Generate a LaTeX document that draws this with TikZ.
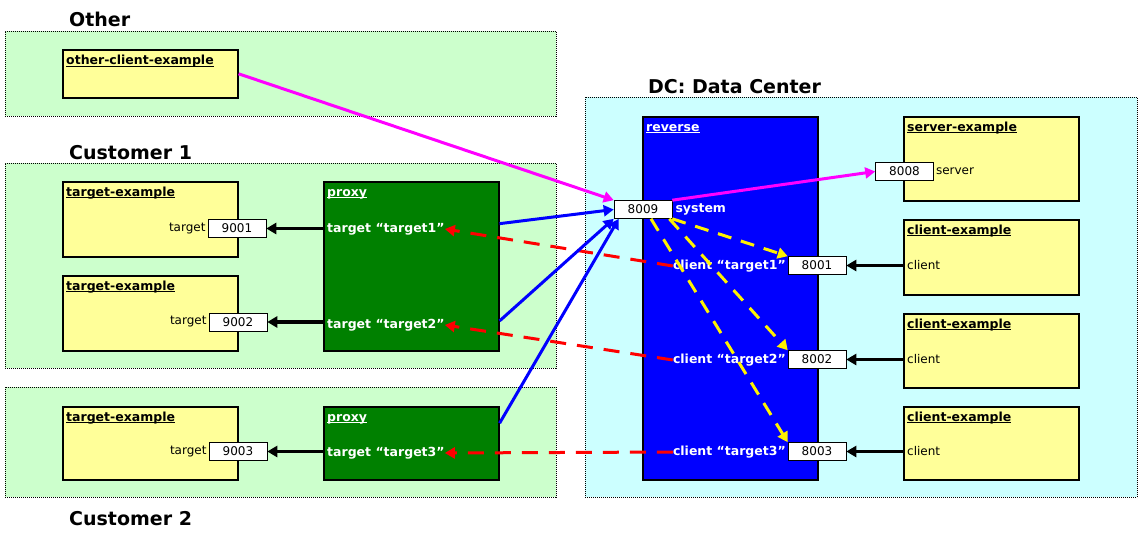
\documentclass[tikz,border=0pt]{standalone}
\usepackage{fontspec}
\setmainfont{DejaVu Sans}
\usetikzlibrary{arrows.meta, calc, positioning}
\definecolor{grpgreen}{HTML}{CCFFCC}
\definecolor{dccyan}{HTML}{CCFFFF}
\definecolor{hostyellow}{HTML}{FFFF99}
\definecolor{proxygreen}{HTML}{008000}
\definecolor{revblue}{HTML}{0000FF}
\definecolor{pink}{HTML}{FF00FF}
\newcommand{\boxname}[1]{\underline{\smash{#1}}}
\tikzset{
  grp/.style={draw, dash pattern=on 1pt off 1pt, line width=0.7pt, anchor=north west},
  hostbox/.style={draw, line width=1.6pt, anchor=north west},
  portbox/.style={draw, fill=white, line width=0.6pt, minimum width=58pt, minimum height=18pt},
  tip/.style={-{Triangle[length=10pt, width=11pt]}}
}

\begin{document}
\begin{tikzpicture}[
    x=1pt, y=-1pt,
    every node/.style={inner sep=0pt, font=\fontsize{12}{14}\selectfont},
    boxtitle/.style={anchor=base west, font=\fontsize{12.5}{14}\selectfont\bfseries},
    grptitle/.style={anchor=base west, font=\fontsize{19}{22}\selectfont\bfseries},
    wlabel/.style={text=white, font=\fontsize{12.5}{14}\selectfont\bfseries},
    blackedge/.style={tip, line width=3.5pt},
    pinkedge/.style={tip, line width=3pt, color=pink},
    blueedge/.style={tip, line width=3pt, color=blue},
    reddash/.style={tip, line width=3pt, color=red, dash pattern=on 16pt off 11pt},
    yellowdash/.style={tip, line width=3pt, color=yellow, dash pattern=on 14pt off 10pt},
]
\useasboundingbox (0,0) rectangle (1145,535);

% Other
\node[grp, fill=grpgreen, minimum width=551pt, minimum height=85pt] (gOther) at (5,31) {};
\node[grptitle] at (69,27) {Other};
\node[hostbox, fill=hostyellow, minimum width=175pt, minimum height=48pt] (other) at (62,49) {};
\node[boxtitle] at (66,65) {\boxname{other-client-example}};

% Customer 1
\node[grp, fill=grpgreen, minimum width=551pt, minimum height=205pt] (gCust1) at (5,163) {};
\node[grptitle] at (69,159) {Customer 1};
\node[hostbox, fill=hostyellow, minimum width=175pt, minimum height=75pt] (tgtA) at (62,181) {};
\node[boxtitle] at (66,196) {\boxname{target-example}};
\node[hostbox, fill=hostyellow, minimum width=175pt, minimum height=75pt] (tgtB) at (62,275) {};
\node[boxtitle] at (66,290) {\boxname{target-example}};
\node[hostbox, fill=proxygreen, minimum width=175pt, minimum height=169pt] (proxyA) at (323,181) {};
\node[boxtitle, text=white] at (327,196) {\boxname{proxy}};

% Customer 2
\node[grp, fill=grpgreen, minimum width=551pt, minimum height=110pt] (gCust2) at (5,387) {};
\node[grptitle] at (69,525) {Customer 2};
\node[hostbox, fill=hostyellow, minimum width=175pt, minimum height=73pt] (tgtC) at (62,406) {};
\node[boxtitle] at (66,421) {\boxname{target-example}};
\node[hostbox, fill=proxygreen, minimum width=175pt, minimum height=73pt] (proxyB) at (323,406) {};
\node[boxtitle, text=white] at (327,421) {\boxname{proxy}};

% DC
\node[grp, fill=dccyan, minimum width=552pt, minimum height=400pt] (gDC) at (585,97) {};
\node[grptitle] at (648,93) {DC: Data Center};
\node[hostbox, fill=revblue, minimum width=175pt, minimum height=363pt] (rev) at (642,116) {};
\node[boxtitle, text=white] at (646,131) {\boxname{reverse}};
\node[hostbox, fill=hostyellow, minimum width=175pt, minimum height=84pt] (server) at (903,116) {};
\node[boxtitle] at (907,131) {\boxname{server-example}};
\foreach \i/\y/\h in {A/219/75, B/313/74, C/406/73} {
  \node[hostbox, fill=hostyellow, minimum width=175pt, minimum height=\h pt] (cli\i) at (903,\y) {};
  \node[boxtitle] at (907,\y+15) {\boxname{client-example}};
}

% ports
\node[portbox] (ptA) at (237,228.5) {9001};
\node[portbox] (ptB) at (238,322) {9002};
\node[portbox] (ptC) at (238,451.5) {9003};
\node[portbox] (p8008) at (904.5,171.5) {8008};
\node[portbox] (p8009) at (643,209.5) {8009};
\node[portbox] (pcA) at (817,265.5) {8001};
\node[portbox] (pcB) at (817,359.5) {8002};
\node[portbox] (pcC) at (817,451.5) {8003};

\foreach \i in {A,B,C} {
  \node[left=2pt of pt\i] {target};
  \node[anchor=west] at ($(cli\i.west |- pc\i)+(4,0)$) {client};
}
\node[right=2pt of p8008] {server};
\node[wlabel, right=3pt of p8009] {system};

% connection labels
\node[wlabel, anchor=west] (ltA) at (327,229) {target “target1”};
\node[wlabel, anchor=west] (ltB) at (327,325) {target “target2”};
\node[wlabel, anchor=west] (ltC) at (327,453) {target “target3”};
\node[wlabel, anchor=east] (lcA) at (786,266) {client “target1”};
\node[wlabel, anchor=east] (lcB) at (786,360) {client “target2”};
\node[wlabel, anchor=east] (lcC) at (786,452) {client “target3”};

% Port forwards
\foreach \i/\p in {A/proxyA, B/proxyA, C/proxyB} {
  \draw[blackedge] (pt\i.east -| \p.west) -- (pt\i.east);
  \draw[blackedge] (pc\i.east -| cli\i.west) -- (pc\i.east);
  \draw[reddash] (lc\i.west) -- (lt\i.east);
}

% Tunnels into reverse
\draw[pinkedge] (other.east) -- (p8009.north west);
\draw[pinkedge] (p8009.north east) -- (p8008.west);
\draw[blueedge] ($(proxyA.north east)!0.25!(proxyA.south east)$) -- (p8009.west);
\draw[blueedge] ($(proxyA.north east)!0.82!(proxyA.south east)$) -- (p8009.south west);
\draw[blueedge] ($(proxyB.north east)!0.23!(proxyB.south east)$) -- ([xshift=5pt]p8009.south west);

% System fan-out
\draw[yellowdash] (p8009.south east) -- (pcA.north west);
\draw[yellowdash] ([xshift=-3pt]p8009.south east) -- (pcB.north west);
\draw[yellowdash] ([xshift=8pt]p8009.south) -- (pcC.north west);

\end{tikzpicture}
\end{document}
